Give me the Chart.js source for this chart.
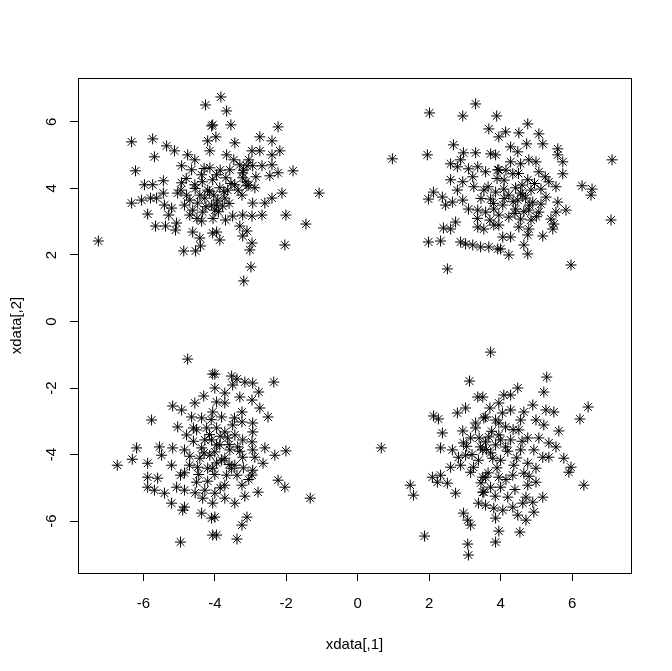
<!DOCTYPE html>
<html>
<head>
<meta charset="utf-8">
<script src="https://cdn.jsdelivr.net/npm/chart.js@4/dist/chart.umd.min.js"></script>
<style>
  html, body { margin: 0; padding: 0; background: #fff; }
  canvas { display: block; }
</style>
</head>
<body>
<canvas id="plot" width="672" height="671"></canvas>
<script>
// axis labels and ticks (R base graphics look)
const xTitle = 'xdata[,1]';
const yTitle = 'xdata[,2]';
const tickValues = [-6, -4, -2, 0, 2, 4, 6];

// points, one array per cluster: [x, y]
const topLeft = [
  [-4.26,6.51],[-4.09,5.88],[-6.33,5.40],[-5.74,5.49],[-5.35,5.28],[-5.13,5.13],[-5.69,4.95],[-6.22,4.53],
  [-4.76,5.01],[-4.56,4.86],[-4.20,5.43],[-4.14,5.13],[-4.93,4.68],[-4.65,4.56],[-4.37,4.41],[-5.97,4.11],
  [-5.74,4.11],[-5.44,4.23],[-4.93,4.17],[-4.56,4.11],[-6.33,3.56],[-6.05,3.65],[-5.80,3.71],[-5.63,3.71],
  [-5.44,3.86],[-5.04,3.86],[-4.79,3.80],[-5.41,3.50],[-5.21,3.41],[-5.29,3.20],[-5.88,3.23],[-5.66,2.87],
  [-5.38,2.87],[-5.07,2.96],[-5.10,2.75],[-4.62,2.69],[-4.37,3.02],[-4.42,2.51],[-4.40,2.27],[-4.87,2.12],
  [-4.54,2.12],[-7.26,2.42],[-4.06,2.66],[-4.70,3.65],[-4.48,3.56],[-4.28,3.71],[-4.09,3.50],[-4.62,3.35],
  [-4.34,3.29],[-4.85,3.50],[-4.20,3.95],[-4.42,3.80],[-4.00,3.35],
  [-3.83,6.75],[-3.67,6.33],[-4.06,5.91],[-3.55,5.91],[-3.97,5.55],[-2.23,5.85],[-2.74,5.55],[-2.40,5.43],
  [-3.44,5.37],[-2.96,5.13],[-2.74,5.13],[-2.18,5.13],[-2.40,5.01],[-3.67,5.01],[-3.47,4.86],[-3.10,4.68],
  [-2.94,4.68],[-2.68,4.68],[-2.40,4.71],[-1.81,4.53],[-2.23,4.47],[-2.46,4.38],[-3.58,4.56],[-3.22,4.47],
  [-3.95,4.41],[-3.44,4.11],[-3.10,4.08],[-2.88,4.02],[-1.08,3.86],[-2.12,3.86],[-2.40,3.71],[-2.60,3.56],
  [-2.94,3.56],[-3.24,3.80],[-3.72,3.71],[-3.95,3.50],[-3.78,3.47],[-2.01,3.20],[-2.68,3.20],[-2.96,3.17],
  [-3.22,3.20],[-3.50,3.17],[-1.45,2.93],[-3.30,2.87],[-3.10,2.72],[-3.95,2.69],[-3.86,2.45],[-3.22,2.57],
  [-2.96,2.36],[-3.02,2.15],[-2.04,2.30],[-2.99,1.64],[-3.19,1.22],[-4.06,4.26],[-3.86,4.02],[-3.69,4.32],
  [-4.03,3.80],[-3.64,3.95],[-3.92,3.65],[-4.14,4.62],[-3.22,4.32],[-3.13,4.20],[-3.30,4.71],[-3.05,4.86],
  [-4.80,4.30],[-4.55,4.00],[-4.35,4.20],[-4.15,3.90],[-4.70,3.20],[-4.50,3.10],[-4.25,3.45],[-3.90,3.30],
  [-3.75,3.90],[-3.55,4.15],[-3.60,3.55],[-3.85,4.55],[-4.30,4.60],[-4.95,3.95],[-3.20,4.55],[-3.05,4.10],
  [-3.35,3.95],[-2.85,4.35],[-4.05,3.10],[-3.70,3.05]
];
const topRight = [
  [3.30,6.54],[2.01,6.27],[2.94,6.18],[3.89,6.18],[3.67,5.79],[3.95,5.55],[0.97,4.89],[1.95,5.01],
  [2.68,5.31],[2.96,5.07],[3.30,5.07],[3.72,5.04],[3.86,5.01],[2.88,4.86],[2.60,4.74],[2.79,4.65],
  [3.10,4.59],[3.36,4.65],[3.58,4.50],[3.92,4.56],[2.60,4.26],[2.94,4.20],[3.22,4.35],[2.79,3.95],
  [2.12,3.89],[1.98,3.68],[2.37,3.74],[2.46,3.50],[2.65,3.59],[2.94,3.65],[3.53,3.95],[3.72,3.68],
  [3.86,3.89],[3.10,3.38],[3.36,3.35],[3.58,3.29],[3.81,3.38],[2.74,2.99],[2.40,2.81],[2.60,2.78],
  [3.36,2.84],[3.53,2.78],[3.81,2.90],[1.98,2.39],[2.32,2.42],[2.88,2.39],[3.02,2.33],[3.22,2.30],
  [3.44,2.24],[3.67,2.24],[3.92,2.18],[2.51,1.58],
  [4.76,5.94],[4.14,5.70],[4.51,5.67],[5.07,5.64],[4.73,5.34],[5.18,5.34],[4.28,5.25],[5.60,5.19],
  [4.48,5.10],[5.60,5.01],[5.74,4.80],[7.12,4.86],[4.79,4.86],[4.99,4.80],[4.28,4.80],[4.56,4.74],
  [3.95,4.56],[5.07,4.50],[5.74,4.44],[4.34,4.44],[4.76,4.26],[5.35,4.20],[6.28,4.08],[6.56,3.98],
  [6.53,3.80],[5.55,4.05],[5.13,3.98],[4.09,3.98],[4.62,3.80],[5.27,3.74],[5.60,3.59],[5.13,3.53],
  [4.06,3.50],[4.42,3.38],[4.79,3.35],[5.83,3.35],[5.55,3.29],[5.07,3.29],[7.09,3.05],[5.41,3.08],
  [5.49,2.93],[4.23,3.14],[4.56,3.08],[4.85,3.05],[3.95,2.90],[4.51,2.84],[4.79,2.78],[5.46,2.78],
  [4.06,2.54],[4.28,2.54],[4.76,2.60],[5.18,2.57],[4.65,2.30],[4.00,2.18],[4.23,2.00],[4.76,2.03],
  [5.97,1.70],[4.42,4.02],[4.56,3.86],[4.70,3.71],[4.85,3.95],[4.48,3.65],[4.23,3.80],[4.90,3.59],
  [3.65,4.05],[3.80,3.55],[3.95,3.20],[3.70,3.05],[4.10,4.25],[4.35,3.60],[4.60,4.10],[4.95,4.15],
  [4.80,3.50],[4.40,3.25],[3.45,3.70],[3.25,4.05],[4.15,4.55],[4.50,4.45],[5.25,4.35],[5.00,3.15],
  [4.10,3.70],[3.90,4.30],[4.65,3.30],[3.35,3.10]
];
const bottomLeft = [
  [-4.76,-1.13],[-4.06,-1.58],[-4.31,-2.24],[-4.56,-2.45],[-5.18,-2.54],[-4.93,-2.66],[-5.77,-2.96],[-4.65,-2.87],
  [-4.37,-2.90],[-5.04,-3.17],[-4.79,-3.41],[-4.51,-3.26],[-4.23,-3.20],[-6.19,-3.80],[-5.55,-3.77],[-5.18,-3.80],
  [-4.85,-3.86],[-4.37,-3.80],[-6.31,-4.14],[-5.49,-4.02],[-5.88,-4.26],[-5.21,-4.32],[-4.71,-4.32],[-4.48,-4.38],
  [-6.73,-4.32],[-4.20,-4.41],[-5.88,-4.68],[-5.60,-4.71],[-4.96,-4.62],[-4.51,-4.83],[-5.88,-4.98],[-5.69,-5.07],
  [-5.41,-5.16],[-5.07,-4.98],[-4.85,-5.07],[-4.28,-5.07],[-4.34,-5.31],[-5.21,-5.46],[-4.85,-5.58],[-4.90,-5.67],
  [-4.37,-5.76],[-4.09,-5.91],[-4.06,-6.42],[-4.96,-6.63],
  [-4.00,-1.58],[-3.53,-1.64],[-3.38,-1.73],[-3.16,-1.82],[-2.94,-1.85],[-2.35,-1.82],[-4.00,-2.00],[-3.50,-1.91],
  [-3.72,-2.15],[-2.77,-2.12],[-3.30,-2.27],[-2.96,-2.36],[-3.95,-2.42],[-3.72,-2.45],[-2.74,-2.60],[-3.24,-2.72],
  [-2.51,-2.87],[-4.06,-2.72],[-3.81,-2.87],[-3.50,-3.11],[-3.24,-3.02],[-2.94,-3.05],[-3.95,-3.20],[-2.94,-3.32],
  [-3.64,-3.50],[-3.22,-3.56],[-2.96,-3.62],[-3.95,-3.71],[-3.36,-3.77],[-2.60,-3.80],[-2.94,-3.86],[-2.01,-3.89],
  [-2.32,-4.02],[-4.00,-3.92],[-3.22,-4.08],[-3.72,-4.11],[-2.88,-4.08],[-2.65,-4.26],[-3.44,-4.32],[-4.06,-4.41],
  [-2.94,-4.47],[-3.67,-4.62],[-3.38,-4.62],[-2.96,-4.62],[-2.23,-4.77],[-2.04,-4.98],[-3.24,-4.92],[-3.72,-4.92],
  [-4.00,-5.16],[-2.79,-5.13],[-3.16,-5.25],[-3.72,-5.31],[-3.44,-5.46],[-1.33,-5.31],[-4.06,-5.46],[-3.10,-5.88],
  [-3.24,-6.12],[-4.00,-5.88],[-3.95,-6.42],[-3.38,-6.54],[-4.09,-3.56],[-3.86,-3.71],[-3.58,-3.86],[-3.81,-4.17],
  [-3.53,-4.41],[-4.14,-4.02],[-3.72,-3.32],[-3.44,-3.41],[-4.28,-3.56],[-4.42,-4.11],
  [-4.60,-3.60],[-4.70,-4.05],[-4.45,-4.60],[-4.20,-4.80],[-4.15,-3.40],[-4.00,-4.60],[-3.60,-4.30],[-3.85,-3.45],
  [-3.30,-3.90],[-3.60,-3.70],[-3.95,-4.25],[-4.30,-3.95],[-4.60,-3.20],[-4.10,-2.95],[-3.45,-2.90],[-4.55,-5.15],
  [-3.85,-5.00],[-3.20,-4.40],[-4.85,-4.55],[-3.05,-4.75]
];
const bottomRight = [
  [3.13,-1.79],[3.36,-2.27],[3.02,-2.60],[2.79,-2.75],[2.12,-2.84],[2.26,-2.93],[3.53,-2.90],[2.37,-3.35],
  [2.94,-3.29],[3.30,-3.20],[0.66,-3.80],[2.32,-3.80],[2.65,-3.86],[3.16,-3.50],[2.96,-3.65],[3.44,-3.77],
  [2.82,-4.08],[3.02,-4.02],[2.60,-4.38],[2.88,-4.32],[3.24,-4.38],[3.16,-4.53],[2.09,-4.68],[2.32,-4.62],
  [2.23,-4.83],[2.51,-4.86],[1.47,-4.92],[1.56,-5.22],[2.74,-5.16],[3.50,-4.68],[3.50,-5.13],[3.38,-5.46],
  [2.96,-5.76],[3.08,-5.97],[3.16,-6.12],[1.87,-6.45],[3.08,-6.69],[3.10,-7.02],
  [3.72,-0.92],[5.29,-1.67],[4.48,-2.00],[5.21,-2.12],[4.09,-2.21],[4.28,-2.21],[3.50,-2.27],[6.45,-2.57],
  [3.95,-2.45],[4.90,-2.51],[4.28,-2.66],[4.65,-2.72],[5.27,-2.66],[5.49,-2.72],[6.22,-2.93],[3.58,-2.87],
  [3.86,-2.96],[4.56,-2.96],[4.99,-2.96],[5.21,-3.11],[5.63,-3.29],[4.14,-3.17],[4.51,-3.26],[3.95,-3.41],
  [4.76,-3.50],[5.07,-3.50],[5.35,-3.65],[5.55,-3.77],[3.58,-3.62],[4.14,-3.77],[4.56,-3.86],[4.93,-3.86],
  [5.77,-4.11],[5.35,-4.08],[5.18,-4.08],[5.97,-4.38],[5.91,-4.53],[3.72,-3.95],[4.00,-4.17],[4.37,-4.32],
  [4.76,-4.26],[4.99,-4.41],[3.58,-4.68],[3.95,-4.68],[4.34,-4.62],[4.65,-4.56],[4.99,-4.83],[6.33,-4.92],
  [3.72,-4.98],[4.00,-4.98],[4.76,-4.92],[3.53,-5.13],[4.20,-5.28],[4.71,-5.28],[5.18,-5.28],[4.90,-5.43],
  [3.58,-5.52],[3.81,-5.61],[4.06,-5.67],[4.34,-5.58],[4.62,-5.46],[4.93,-5.73],[4.48,-5.82],[3.86,-5.91],
  [4.71,-5.97],[3.95,-6.30],[4.54,-6.33],[3.86,-6.63],[3.67,-3.47],[3.86,-3.71],[3.50,-3.86],[3.78,-4.11],
  [4.00,-3.56],[3.38,-4.17],[4.28,-3.56],
  [3.60,-3.85],[3.75,-3.30],[3.90,-4.40],[4.20,-3.90],[4.45,-4.10],[4.35,-3.25],[3.40,-3.50],[3.20,-4.00],
  [3.05,-3.75],[3.65,-4.55],[4.15,-4.75],[4.60,-3.60],[3.45,-4.85],[3.85,-5.25],[4.40,-5.05],[3.30,-3.05],
  [4.05,-2.75],[4.80,-4.65],[3.95,-3.05],[3.70,-2.60]
];

const FONT = '"Liberation Sans", Arial, sans-serif';

function toPoints(list) {
    return list.map(p => ({ x: p[0], y: p[1] }));
}

// box round the plot region, rotated y tick labels and axis titles like R draws them
const rFrame = {
    id: 'rFrame',
    afterDraw(chart) {
        const { ctx, chartArea: a, scales } = chart;
        ctx.save();
        ctx.strokeStyle = '#000';
        ctx.lineWidth = 1;
        ctx.strokeRect(Math.round(a.left) + 0.5, Math.round(a.top) + 0.5,
            Math.round(a.right - a.left), Math.round(a.bottom - a.top));

        ctx.fillStyle = '#000';
        ctx.font = '15px ' + FONT;
        ctx.textAlign = 'center';
        ctx.textBaseline = 'alphabetic';
        scales.y.ticks.forEach(t => {
            const py = scales.y.getPixelForValue(t.value);
            ctx.save();
            ctx.translate(55.5, py);
            ctx.rotate(-Math.PI / 2);
            ctx.fillText(String(t.value), 0, 0);
            ctx.restore();
        });

        ctx.fillText(xTitle, (a.left + a.right) / 2, 649);
        ctx.save();
        ctx.translate(20.5, (a.top + a.bottom) / 2);
        ctx.rotate(-Math.PI / 2);
        ctx.fillText(yTitle, 0, 0);
        ctx.restore();
        ctx.restore();
    }
};

const pointStyle = {
    pointStyle: 'star',
    pointRadius: 5.5,
    pointHoverRadius: 5.5,
    borderColor: '#000',
    backgroundColor: 'rgba(0,0,0,0)',
    borderWidth: 1,
    showLine: false
};

function initChart() {
    const ctx = document.getElementById('plot').getContext('2d');
    new Chart(ctx, {
        type: 'scatter',
        data: {
            datasets: [
                Object.assign({ label: 'c1', data: toPoints(topLeft) }, pointStyle),
                Object.assign({ label: 'c2', data: toPoints(topRight) }, pointStyle),
                Object.assign({ label: 'c3', data: toPoints(bottomLeft) }, pointStyle),
                Object.assign({ label: 'c4', data: toPoints(bottomRight) }, pointStyle)
            ]
        },
        options: {
            responsive: false,
            animation: false,
            devicePixelRatio: 1,
            layout: { padding: { top: 78, right: 41, left: 0, bottom: 0 } },
            plugins: { legend: { display: false }, tooltip: { enabled: false } },
            scales: {
                x: {
                    type: 'linear',
                    min: -7.83,
                    max: 7.65,
                    afterBuildTicks: s => { s.ticks = tickValues.map(v => ({ value: v })); },
                    afterFit: s => { s.height = 98; },
                    grid: { drawOnChartArea: false, drawTicks: true, tickLength: 8, color: '#000' },
                    border: { display: true, color: '#000', width: 1 },
                    ticks: { color: '#000', font: { family: FONT, size: 15 }, padding: 14, maxRotation: 0 }
                },
                y: {
                    type: 'linear',
                    min: -7.56,
                    max: 7.32,
                    afterBuildTicks: s => { s.ticks = tickValues.map(v => ({ value: v })); },
                    afterFit: s => { s.width = 78; },
                    grid: { drawOnChartArea: false, drawTicks: true, tickLength: 8, color: '#000' },
                    border: { display: true, color: '#000', width: 1 },
                    ticks: { color: 'rgba(0,0,0,0)', font: { family: FONT, size: 15 } }
                }
            }
        },
        plugins: [rFrame]
    });
}

window.onload = initChart;
</script>
</body>
</html>
